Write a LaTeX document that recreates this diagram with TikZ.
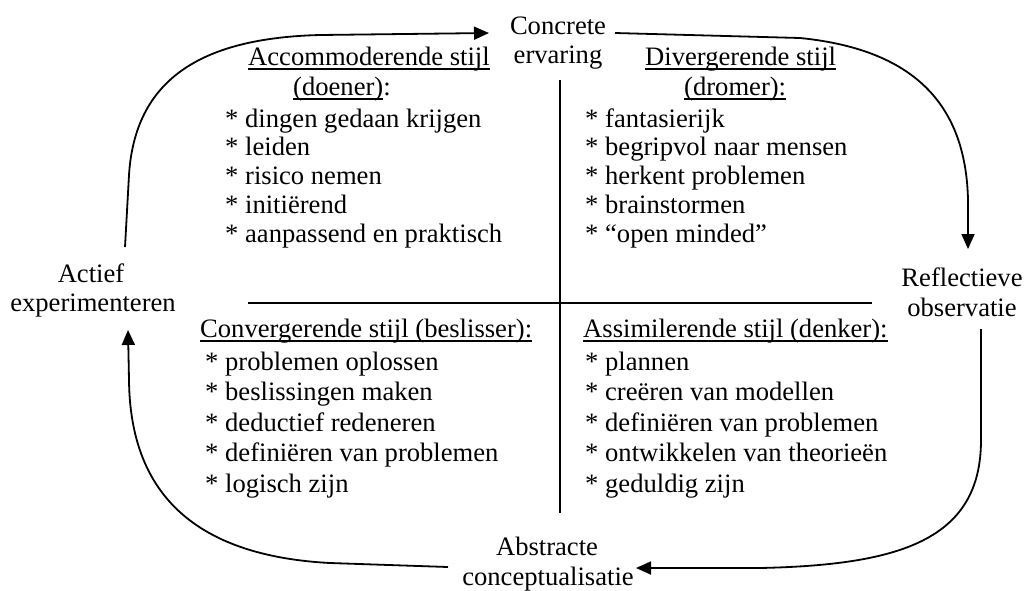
\documentclass[tikz,border=0pt]{standalone}
\usepackage{fontspec}
\setmainfont{Liberation Serif}
\usetikzlibrary{arrows.meta}
\newcommand\fsz{\fontsize{26.6}{29.5}\selectfont}
\newcommand\ulin[1]{\setbox0\hbox{#1}\rlap{\rule[-4.8pt]{\wd0}{1.6pt}}\box0}
\tikzset{
  lbl/.style={inner sep=0pt, anchor=base west, font=\fsz},
  pole/.style={inner sep=0pt, anchor=base, font=\fsz},
  cross/.style={line width=1.8pt},
  cyc/.style={line width=1.8pt, -{Triangle[length=15pt,width=13pt]}}
}
\begin{document}
\begin{tikzpicture}[x=1pt,y=-1pt]
\useasboundingbox (0,0) rectangle (1024,590);
% poles
\node[pole] (ce1) at (558,34) {Concrete};
\node[pole] (ce2) at (558,63) {ervaring};
\node[pole] (ae1) at (91,282) {Actief};
\node[pole] (ae2) at (93,311) {experimenteren};
\node[pole] (ro1) at (962,286) {Reflectieve};
\node[pole] (ro2) at (962,316) {observatie};
\node[pole] (ac1) at (547,555) {Abstracte};
\node[pole] (ac2) at (548,585) {conceptualisatie};
% cross
\coordinate (vt) at (560,80);
\coordinate (vb) at (560,513);
\coordinate (hl) at (248,303);
\coordinate (hr) at (872,303);
\draw[cross] (vt) -- (vb);
\draw[cross] (hl) -- (hr);
% headers
\node[lbl] (h1a) at (248,65) {\ulin{Accommoderende stijl}};
\node[lbl] (h1b) at (293,95) {\ulin{(doener)}:};
\node[lbl] (h2a) at (645,65) {\ulin{Divergerende stijl}};
\node[lbl] (h2b) at (684,95) {\ulin{(dromer):}};
\node[lbl] (h3) at (200,337) {\ulin{Convergerende stijl (beslisser):}};
\node[lbl] (h4) at (583,337) {\ulin{Assimilerende stijl (denker):}};
% lists
\foreach \t [count=\i] in {dingen gedaan krijgen, leiden, risico nemen, initiërend, aanpassend en praktisch}
  \node[lbl] (la\i) at (225,{127+28.8*(\i-1)}) {* \t};
\foreach \t [count=\i] in {fantasierijk, begripvol naar mensen, herkent problemen, brainstormen, “open minded”}
  \node[lbl] (ld\i) at (585,{127+28.8*(\i-1)}) {* \t};
\foreach \t [count=\i] in {problemen oplossen, beslissingen maken, deductief redeneren, definiëren van problemen, logisch zijn}
  \node[lbl] (lc\i) at (205,{370+30.5*(\i-1)}) {* \t};
\foreach \t [count=\i] in {plannen, creëren van modellen, definiëren van problemen, ontwikkelen van theorieën, geduldig zijn}
  \node[lbl] (ls\i) at (585,{370+30.5*(\i-1)}) {* \t};
% cycle arrows
\coordinate (a1s) at (125,247);
\coordinate (a1e) at (489,33);
\coordinate (a2s) at (615,33);
\coordinate (a2e) at (968,249);
\coordinate (a3s) at (981,329);
\coordinate (a3e) at (636,568);
\coordinate (a4s) at (448,567);
\coordinate (a4e) at (128,330);
\draw[cyc] (a1s) -- (129,175) .. controls (135,80) and (200,38) .. (320,35) -- (a1e);
\draw[cyc] (a2s) -- (800,38) .. controls (920,50) and (966,110) .. (968,200) -- (a2e);
\draw[cyc] (a3s) -- (981,440) .. controls (981,540) and (900,565) .. (760,568) -- (a3e);
\draw[cyc] (a4s) -- (330,563) .. controls (180,555) and (130,480) .. (129,380) -- (a4e);
\end{tikzpicture}
\end{document}
